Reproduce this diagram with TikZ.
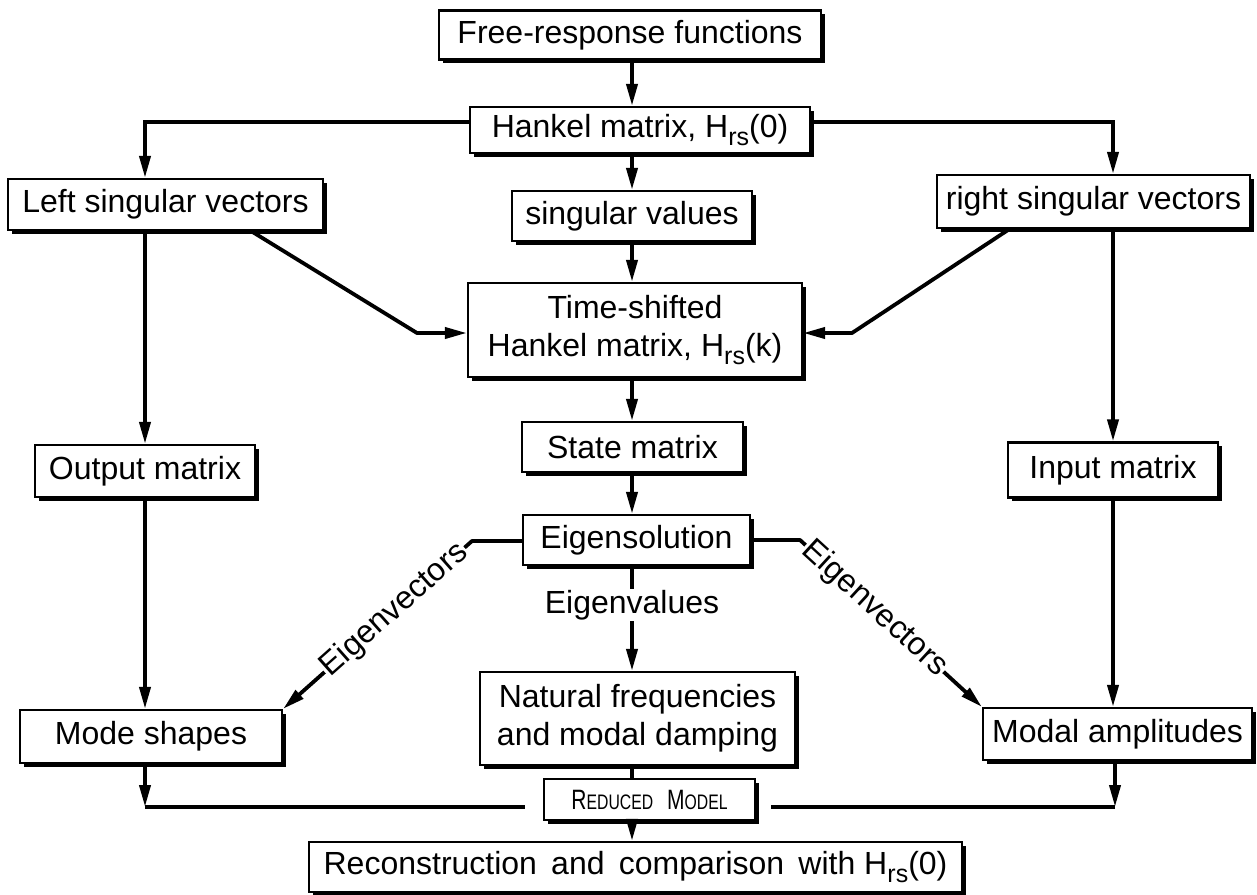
\documentclass[tikz,border=0pt]{standalone}
\usepackage{fontspec}
\setmainfont{Liberation Sans}
\newfontfamily\narrowfont[FakeStretch=0.75]{Liberation Sans}
\usetikzlibrary{arrows.meta,shadows,calc}
\newcommand{\lowsub}[1]{\raisebox{-0.45ex}{\fontsize{25}{25}\selectfont #1}}
\begin{document}
\begin{tikzpicture}[x=1pt,y=-1pt,
  box/.style={draw,line width=2.2pt,fill=white,inner sep=0pt,align=center,
    font=\fontsize{32}{38}\selectfont,
    drop shadow={shadow xshift=3.5pt,shadow yshift=-3.5pt,fill=black,opacity=1}},
  conn/.style={line width=3.8pt},
  arr/.style={conn,-{Triangle[length=22pt,width=11pt]}},
  lbl/.style={font=\fontsize{32}{38}\selectfont,fill=white,inner sep=1pt}
]
\useasboundingbox (0,0) rectangle (1257,894);

\node[box,minimum width=382pt,minimum height=49pt] (free) at (630,35) {Free-response functions};
\node[box,minimum width=340pt,minimum height=46pt] (hank) at (640,130) {Hankel matrix, H\lowsub{rs}(0)};
\node[box,minimum width=315pt,minimum height=51pt] (lsv) at (165.5,204.5) {Left singular vectors};
\node[box,minimum width=240pt,minimum height=50pt] (sv) at (632,216) {singular values};
\node[box,minimum width=313pt,minimum height=53pt] (rsv) at (1093.5,201.5) {right singular vectors};
\node[box,minimum width=334pt,minimum height=94pt] (ts) at (635,330) {Time-shifted\\Hankel matrix, H\lowsub{rs}(k)};
\node[box,minimum width=221pt,minimum height=50pt] (state) at (632.5,447) {State matrix};
\node[box,minimum width=220pt,minimum height=52pt] (out) at (145,471) {Output matrix};
\node[box,minimum width=210pt,minimum height=55pt] (inp) at (1113,470) {Input matrix};
\node[box,minimum width=227pt,minimum height=50pt] (eig) at (636.5,540) {Eigensolution};
\node[box,minimum width=262pt,minimum height=53pt] (mode) at (151,736.5) {Mode shapes};
\node[box,minimum width=315pt,minimum height=93pt] (nat) at (637.5,718.5) {Natural frequencies\\and modal damping};
\node[box,minimum width=269pt,minimum height=52pt] (modal) at (1117.5,734) {Modal amplitudes};
\node[box,minimum width=211pt,minimum height=41pt,font=\narrowfont] (red) at (649.5,799.5)
  {{\fontsize{28}{28}\selectfont R}{\fontsize{21}{21}\selectfont EDUCED}\hspace{14pt}{\fontsize{28}{28}\selectfont M}{\fontsize{21}{21}\selectfont ODEL}};
\node[box,minimum width=653pt,minimum height=50pt] (rec) at (635.5,867) {Reconstruction\, and\, comparison\, with H\lowsub{rs}(0)};

\coordinate (colL) at (145,0);
\coordinate (colR) at (1113,0);
\coordinate (colC) at (632,0);
\coordinate (hy) at (0,122);
\coordinate (dL) at (417,333);
\coordinate (dR) at (852,333);
\coordinate (eL) at (472,541);
\coordinate (eR) at (800,540);

% top
\draw[arr] (free.south -| colC) -- (hank.north -| colC);
\draw[arr] (hank.west |- hy) -| (lsv.north -| colL);
\draw[arr] (hank.east |- hy) -| (rsv.north -| colR);
\draw[arr] (hank.south -| colC) -- (sv.north -| colC);
\draw[arr] (sv.south -| colC) -- (ts.north -| colC);
% diagonals into time-shifted
\draw[arr,line join=round] ($(lsv.south west)!0.77!(lsv.south east)$) -- (dL) -- (ts.west |- dL);
\draw[arr,line join=round] ($(rsv.south west)!0.233!(rsv.south east)$) -- (dR) -- (ts.east |- dR);
% center column
\draw[arr] (ts.south -| colC) -- (state.north -| colC);
\draw[arr] (state.south -| colC) -- (eig.north -| colC);
% sides
\draw[arr] (lsv.south -| colL) -- (out.north -| colL);
\draw[arr] (out.south -| colL) -- (mode.north -| colL);
\draw[arr] (rsv.south -| colR) -- (inp.north -| colR);
\draw[arr] (inp.south -| colR) -- (modal.north -| colR);
% eigen
\draw[arr,line join=round] (eig.west |- eL) -- (eL) -- node[lbl,sloped,pos=0.41] {Eigenvectors} (mode.north east);
\draw[arr,line join=round] (eig.east |- eR) -- (eR) -- node[lbl,sloped,pos=0.41] {Eigenvectors} (modal.north west);
\draw[arr] (eig.south -| colC) -- node[lbl,pos=0.37] {Eigenvalues} (nat.north -| colC);
% bottom
\coordinate (bL) at (145,807);
\coordinate (bR) at (1115,807);
\draw[arr] (mode.south -| bL) -- (bL);
\draw[conn,shorten >=18pt] (bL) -- (red.west |- bL);
\draw[arr] (modal.south -| bR) -- (bR);
\draw[conn,shorten >=15pt] (bR) -- (red.east |- bR);
\draw[conn] (nat.south -| colC) -- (red.north -| colC);
\draw[arr] (red.south -| colC) -- (rec.north -| colC);
\end{tikzpicture}
\end{document}
